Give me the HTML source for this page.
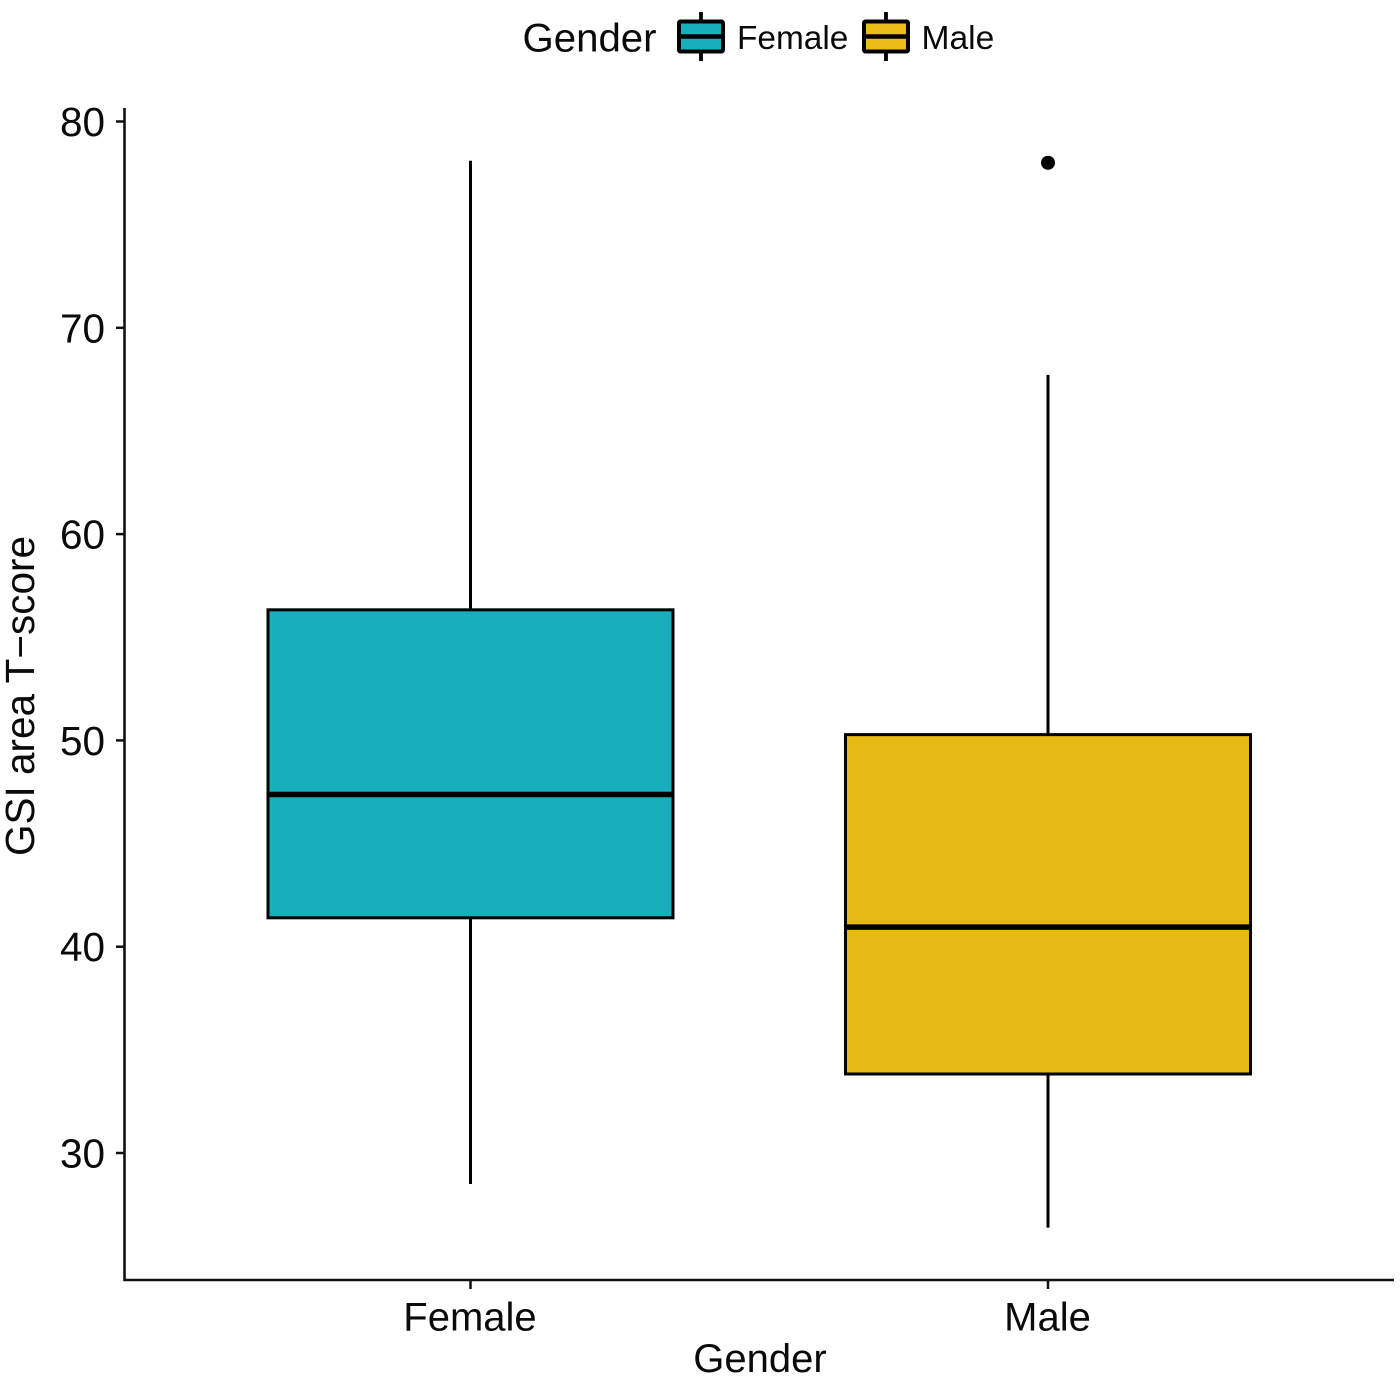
<!DOCTYPE html>
<html>
<head>
<meta charset="utf-8">
<title>GSI area T-score by Gender</title>
<style>
html,body{margin:0;padding:0;background:#fff;}
svg{display:block;}
text{font-family:"Liberation Sans",Arial,sans-serif;fill:#0a0a0a;}
</style>
</head>
<body>
<svg id="chart" xmlns="http://www.w3.org/2000/svg" width="1400" height="1378" viewBox="0 0 1400 1378">
  <rect x="0" y="0" width="1400" height="1378" fill="#fff"/>
  <g id="marks"></g>
  <g id="axes"></g>
  <text x="760" y="1372" font-size="40" text-anchor="middle">Gender</text>
  <text transform="translate(34,696) rotate(-90)" font-size="40.5" text-anchor="middle">GSI area T−score</text>
  <g>
    <text x="522.5" y="51.5" font-size="40.2">Gender</text>
    <g>
      <line x1="701" x2="701" y1="12" y2="61" stroke="#000" stroke-width="3.8"/>
      <rect x="679" y="21.5" width="44" height="30" rx="1.5" fill="#17AFBC" stroke="#000" stroke-width="4"/>
      <line x1="679" x2="723" y1="36.5" y2="36.5" stroke="#000" stroke-width="4.5"/>
      <text x="737" y="49" font-size="33.4">Female</text>
    </g>
    <g>
      <line x1="886" x2="886" y1="12" y2="61" stroke="#000" stroke-width="3.8"/>
      <rect x="864" y="21.5" width="44" height="30" rx="1.5" fill="#EBBC18" stroke="#000" stroke-width="4"/>
      <line x1="864" x2="908" y1="36.5" y2="36.5" stroke="#000" stroke-width="4.5"/>
      <text x="921.5" y="49" font-size="33.6">Male</text>
    </g>
  </g>
</svg>
<script>
var categories = ['Female', 'Male'];
var whiskerLow = [28.5, 26.38];
var q1 = [41.4, 33.83];
var median = [47.38, 40.95];
var q3 = [56.33, 50.28];
var whiskerHigh = [78.1, 67.72];
var outliers = [[], [78]];
var yTicks = [30, 40, 50, 60, 70, 80];
var fills = ['#17AFBC', '#E7B914'];

var NS = 'http://www.w3.org/2000/svg';
var marks = document.getElementById('marks');
var axes = document.getElementById('axes');

function yScale(v) { return 121.5 + (80 - v) * 20.63; }
function xScale(i) { return 470.5 + i * 577.5; }
var boxHalf = 202.5;

function make(tag, parent, attrs) {
  var el = document.createElementNS(NS, tag);
  for (var k in attrs) el.setAttribute(k, attrs[k]);
  parent.appendChild(el);
  return el;
}

categories.forEach(function (cat, i) {
  var key = cat.toLowerCase();
  var cx = xScale(i);

  var wh = make('line', marks, {x1: cx, x2: cx, y1: yScale(q3[i]), y2: yScale(whiskerHigh[i]), stroke: '#000', 'stroke-width': 3});
  
  

  var wl = make('line', marks, {x1: cx, x2: cx, y1: yScale(q1[i]), y2: yScale(whiskerLow[i]), stroke: '#000', 'stroke-width': 3});
  
  

  var box = make('rect', marks, {x: cx - boxHalf, y: yScale(q3[i]), width: boxHalf * 2, height: yScale(q1[i]) - yScale(q3[i]), fill: fills[i], stroke: '#000', 'stroke-width': 3});
  
  

  var med = make('line', marks, {x1: cx - boxHalf, x2: cx + boxHalf, y1: yScale(median[i]), y2: yScale(median[i]), stroke: '#000', 'stroke-width': 5.5});
  
  

  outliers[i].forEach(function (v) {
    var pt = make('circle', marks, {cx: cx, cy: yScale(v), r: 7, fill: '#000'});
    
    
  });

  var tick = make('line', axes, {x1: cx, x2: cx, y1: 1280, y2: 1289, stroke: '#111', 'stroke-width': 2.5});
  
  

  var label = make('text', axes, {x: cx - 0.5, y: 1330.5, 'font-size': 40, 'text-anchor': 'middle'});
  
  
  label.textContent = cat;
});

yTicks.forEach(function (v) {
  var y = yScale(v);
  var tick = make('line', axes, {x1: 116, x2: 125, y1: y, y2: y, stroke: '#111', 'stroke-width': 2.5});
  
  

  var label = make('text', axes, {x: 105, y: y + 14.5, 'font-size': 40.5, 'text-anchor': 'end'});
  
  
  label.textContent = v;
});

var yAxis = make('line', axes, {x1: 124.5, x2: 124.5, y1: 108, y2: 1281, stroke: '#111', 'stroke-width': 2.6});



var xAxis = make('line', axes, {x1: 123.5, x2: 1394, y1: 1280, y2: 1280, stroke: '#111', 'stroke-width': 2.6});


</script>
</body>
</html>
